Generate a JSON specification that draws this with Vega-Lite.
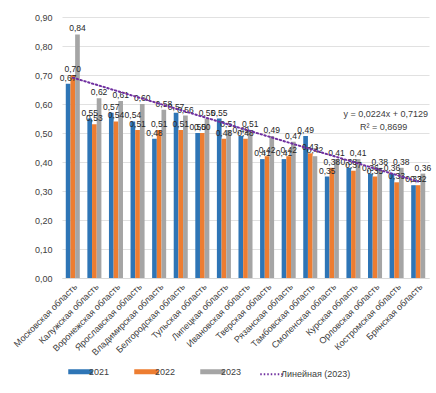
{
  "$schema": "https://vega.github.io/schema/vega-lite/v6.json",
  "autosize": {"type": "none"},
  "width": 367,
  "height": 261,
  "padding": {"left": 62, "top": 17, "right": 7, "bottom": 115},
  "background": "white",
  "config": {
    "locale": {"number": {"decimal": ",", "thousands": "\u00a0", "grouping": [3], "currency": ["", ""]}},
    "view": {"stroke": null},
    "font": "Liberation Sans"
  },
  "datasets": {
    "rows": [
      {"region": "Московская область", "idx": 1, "series": "2021", "value": 0.67},
      {"region": "Московская область", "idx": 1, "series": "2022", "value": 0.70},
      {"region": "Московская область", "idx": 1, "series": "2023", "value": 0.84},
      {"region": "Калужская область", "idx": 2, "series": "2021", "value": 0.55},
      {"region": "Калужская область", "idx": 2, "series": "2022", "value": 0.53},
      {"region": "Калужская область", "idx": 2, "series": "2023", "value": 0.62},
      {"region": "Воронежская область", "idx": 3, "series": "2021", "value": 0.57},
      {"region": "Воронежская область", "idx": 3, "series": "2022", "value": 0.54},
      {"region": "Воронежская область", "idx": 3, "series": "2023", "value": 0.61},
      {"region": "Ярославская область", "idx": 4, "series": "2021", "value": 0.54},
      {"region": "Ярославская область", "idx": 4, "series": "2022", "value": 0.51},
      {"region": "Ярославская область", "idx": 4, "series": "2023", "value": 0.60},
      {"region": "Владимирская область", "idx": 5, "series": "2021", "value": 0.48},
      {"region": "Владимирская область", "idx": 5, "series": "2022", "value": 0.51},
      {"region": "Владимирская область", "idx": 5, "series": "2023", "value": 0.58},
      {"region": "Белгородская область", "idx": 6, "series": "2021", "value": 0.57},
      {"region": "Белгородская область", "idx": 6, "series": "2022", "value": 0.51},
      {"region": "Белгородская область", "idx": 6, "series": "2023", "value": 0.56},
      {"region": "Тульская область", "idx": 7, "series": "2021", "value": 0.50},
      {"region": "Тульская область", "idx": 7, "series": "2022", "value": 0.50},
      {"region": "Тульская область", "idx": 7, "series": "2023", "value": 0.55},
      {"region": "Липецкая область", "idx": 8, "series": "2021", "value": 0.55},
      {"region": "Липецкая область", "idx": 8, "series": "2022", "value": 0.48},
      {"region": "Липецкая область", "idx": 8, "series": "2023", "value": 0.51},
      {"region": "Ивановская область", "idx": 9, "series": "2021", "value": 0.49},
      {"region": "Ивановская область", "idx": 9, "series": "2022", "value": 0.48},
      {"region": "Ивановская область", "idx": 9, "series": "2023", "value": 0.51},
      {"region": "Тверская область", "idx": 10, "series": "2021", "value": 0.41},
      {"region": "Тверская область", "idx": 10, "series": "2022", "value": 0.42},
      {"region": "Тверская область", "idx": 10, "series": "2023", "value": 0.49},
      {"region": "Рязанская область", "idx": 11, "series": "2021", "value": 0.41},
      {"region": "Рязанская область", "idx": 11, "series": "2022", "value": 0.42},
      {"region": "Рязанская область", "idx": 11, "series": "2023", "value": 0.47},
      {"region": "Тамбовская область", "idx": 12, "series": "2021", "value": 0.49},
      {"region": "Тамбовская область", "idx": 12, "series": "2022", "value": 0.43},
      {"region": "Тамбовская область", "idx": 12, "series": "2023", "value": 0.42},
      {"region": "Смоленская область", "idx": 13, "series": "2021", "value": 0.35},
      {"region": "Смоленская область", "idx": 13, "series": "2022", "value": 0.38},
      {"region": "Смоленская область", "idx": 13, "series": "2023", "value": 0.41},
      {"region": "Курская область", "idx": 14, "series": "2021", "value": 0.38},
      {"region": "Курская область", "idx": 14, "series": "2022", "value": 0.37},
      {"region": "Курская область", "idx": 14, "series": "2023", "value": 0.41},
      {"region": "Орловская область", "idx": 15, "series": "2021", "value": 0.36},
      {"region": "Орловская область", "idx": 15, "series": "2022", "value": 0.35},
      {"region": "Орловская область", "idx": 15, "series": "2023", "value": 0.38},
      {"region": "Костромская область", "idx": 16, "series": "2021", "value": 0.36},
      {"region": "Костромская область", "idx": 16, "series": "2022", "value": 0.33},
      {"region": "Костромская область", "idx": 16, "series": "2023", "value": 0.38},
      {"region": "Брянская область", "idx": 17, "series": "2021", "value": 0.32},
      {"region": "Брянская область", "idx": 17, "series": "2022", "value": 0.32},
      {"region": "Брянская область", "idx": 17, "series": "2023", "value": 0.36}
    ],
    "equation": [
      {"pos": 15.5, "value": 0.565, "label": "y =  0,0224x + 0,7129"},
      {"pos": 15.4, "value": 0.522, "label": "R² = 0,8699"}
    ]
  },
  "resolve": {"scale": {"x": "independent"}},
  "encoding": {
    "y": {
      "field": "value", "type": "quantitative",
      "scale": {"domain": [0, 0.9], "nice": false},
      "axis": {
        "title": null, "values": [0, 0.1, 0.2, 0.3, 0.4, 0.5, 0.6, 0.7, 0.8, 0.9],
        "format": ".2f", "labelFontSize": 9, "labelColor": "#404040", "labelOverlap": false,
        "domain": false, "ticks": false, "gridColor": "#D9D9D9", "gridWidth": 0.8, "labelPadding": 10
      }
    }
  },
  "layer": [
    {
      "data": {"name": "rows"},
      "encoding": {
        "x": {
          "field": "region", "type": "nominal", "sort": null,
          "scale": {"paddingInner": 0.35, "paddingOuter": 0.175},
          "axis": {
            "title": null, "labelAngle": -45, "labelFontSize": 9, "labelColor": "#404040",
            "domainColor": "#D9D9D9", "ticks": false, "labelPadding": 4, "labelLimit": 200
          }
        },
        "xOffset": {"field": "series", "type": "nominal", "scale": {"paddingInner": 0, "paddingOuter": 0}}
      },
      "layer": [
        {
          "mark": {"type": "bar"},
          "encoding": {
            "color": {
              "field": "series", "type": "nominal",
              "scale": {"domain": ["2021", "2022", "2023", "Линейная (2023)"], "range": ["#2E75B6", "#ED7D31", "#A5A5A5", "#7030A0"]},
              "legend": {
                "title": null, "orient": "none", "direction": "horizontal",
                "legendX": 14, "legendY": 350,
                "symbolType": "stroke", "symbolSize": 600, "symbolStrokeWidth": 5,
                "labelFontSize": 9, "labelColor": "#404040", "columnPadding": 14, "labelOffset": 4,
                "encode": {
                  "symbols": {
                    "update": {
                      "stroke": {"scale": "color", "field": "value"},
                      "strokeWidth": {"signal": "datum.value === 'Линейная (2023)' ? 2 : 5"},
                      "strokeDash": {"signal": "datum.value === 'Линейная (2023)' ? [1.5, 2] : [1, 0]"}
                    }
                  }
                }
              }
            }
          }
        },
        {
          "mark": {"type": "text", "dy": -6, "fontSize": 8.5, "color": "#262626"},
          "encoding": {
            "text": {"field": "value", "type": "quantitative", "format": ".2f"}
          }
        }
      ]
    },
    {
      "layer": [
        {
          "data": {"name": "rows"},
          "transform": [
            {"filter": "datum.series === '2023'"},
            {"regression": "value", "on": "idx", "extent": [1, 17]}
          ],
          "mark": {"type": "line", "strokeDash": [1.5, 2.5], "strokeWidth": 2, "strokeCap": "round"},
          "encoding": {
            "x": {"field": "idx", "type": "quantitative", "scale": {"domain": [0.5, 17.5], "nice": false, "zero": false}, "axis": null},
            "color": {"datum": "Линейная (2023)"}
          }
        },
        {
          "data": {"name": "equation"},
          "mark": {"type": "text", "fontSize": 9, "color": "#404040", "align": "center"},
          "encoding": {
            "x": {"field": "pos", "type": "quantitative", "axis": null},
            "text": {"field": "label"}
          }
        }
      ]
    }
  ]
}
